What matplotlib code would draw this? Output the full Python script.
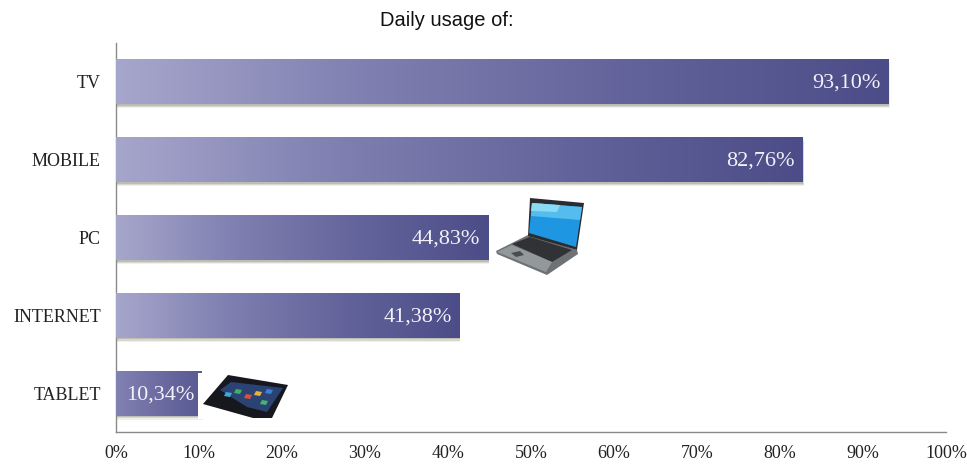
import numpy as np
import matplotlib
matplotlib.use("Agg")
import matplotlib.pyplot as plt
from matplotlib.colors import LinearSegmentedColormap
from matplotlib.patches import Polygon, Rectangle
from matplotlib.transforms import Affine2D

categories = ["TV", "MOBILE", "PC", "INTERNET", "TABLET"]
values = [93.10, 82.76, 44.83, 41.38, 10.34]
value_labels = ["93,10%", "82,76%", "44,83%", "41,38%", "10,34%"]
x_ticks = [0, 10, 20, 30, 40, 50, 60, 70, 80, 90, 100]
x_tick_labels = ["0%", "10%", "20%", "30%", "40%", "50%", "60%", "70%", "80%", "90%", "100%"]

W, H = 967, 465
fig = plt.figure(figsize=(W / 100, H / 100), dpi=100)
ax = fig.add_axes([116 / W, 1 - 432 / H, (946 - 116) / W, (432 - 43) / H])

serif = "Liberation Serif"
bar_cmap = LinearSegmentedColormap.from_list("bar", ["#A6A6CC", "#7E7EB0", "#63639B", "#4C4C88"])
bar_height = 0.58

for i, (value, text) in enumerate(zip(values, value_labels)):
    # soft drop shadow under each bar
    for off, alpha in ((0.05, 0.12), (0.035, 0.2), (0.02, 0.3)):
        ax.barh(i + off, value + off * 2.5, height=bar_height, color="#80806F",
                alpha=alpha, linewidth=0, zorder=1)
    base = ax.barh(i, value, height=bar_height, color="none", linewidth=0, zorder=2)[0]
    # the shortest bar only covers the middle of the colour ramp
    short = value < 20
    lo, hi = (0.3, 0.8) if short else (0.0, 1.0)
    ramp = np.linspace(lo, hi, 256).reshape(1, -1)
    img = ax.imshow(ramp, cmap=bar_cmap, vmin=0, vmax=1, aspect="auto", zorder=3,
                    interpolation="bilinear",
                    extent=(0, value, i + bar_height / 2, i - bar_height / 2))
    img.set_clip_path(base)
    ax.text(value - (0.9 if short else 0.95), i + 0.02, text, color="#F1F1F8",
            fontsize=16, family=serif, ha="right", va="center", zorder=8)

ax.set_xlim(0, 100)
ax.set_ylim(len(categories) - 0.5, -0.5)

ax.set_yticks(range(len(categories)))
ax.set_yticklabels(categories, family=serif, fontsize=13, color="#222222")
ax.set_xticks(x_ticks)
ax.set_xticklabels(x_tick_labels, family=serif, fontsize=13, color="#222222")
ax.tick_params(axis="both", length=0)
ax.tick_params(axis="x", pad=9)
ax.tick_params(axis="y", pad=11)

for side in ("top", "right"):
    ax.spines[side].set_visible(False)
for side in ("left", "bottom"):
    ax.spines[side].set_color("#8A8A8A")
    ax.spines[side].set_linewidth(1.0)

fig.text(447 / W, 1 - 20 / H, "Daily usage of:", family="Liberation Sans", fontsize=14.5,
         color="#111111", ha="center", va="center")

# Device icons, laid out in pixel space with the origin at the top left
px = Affine2D().scale(1, -1).translate(0, H)


def shape(points, color, z=6):
    fig.add_artist(Polygon(points, closed=True, facecolor=color, edgecolor="none",
                           transform=px, zorder=z))


# laptop
shape([(496, 251), (528, 235), (577, 250), (578, 254), (547, 275), (497, 254)], "#6E7275")
shape([(512, 244), (530, 237), (572, 250), (552, 262)], "#303235")
shape([(497, 252), (512, 245), (552, 262), (546, 272)], "#93989B")
shape([(511, 253), (520, 251), (524, 255), (516, 257)], "#4A4D50")
shape([(530, 198), (584, 203), (577, 250), (528, 236)], "#2A2C30")
shape([(532, 203), (582, 207), (576, 247), (529, 233)], "#1F96E2")
shape([(532, 203), (582, 207), (580, 220), (531, 216)], "#55BDEE")
shape([(532, 203), (560, 205), (557, 212), (531, 211)], "#8ADAF6")

# white ground of the tablet picture, which trims the end of the shortest bar
fig.add_artist(Rectangle((198, 373), 92, 46, facecolor="white", edgecolor="none",
                         transform=px, zorder=5))

# tablet
shape([(203, 404), (228, 375), (288, 385), (272, 418), (253, 418)], "#17181D")
shape([(220, 390), (231, 382), (283, 388), (267, 412), (247, 407)], "#2B4372")
tile_colors = ["#3FA8D8", "#3FB06A", "#D8503F", "#E8B23A", "#3F7FD8", "#46B46E"]
tile_spots = [(226, 392), (236, 389), (246, 394), (256, 391), (267, 389), (262, 400)]
for colour, (tx, ty) in zip(tile_colors, tile_spots):
    shape([(tx, ty), (tx + 6, ty + 1), (tx + 4, ty + 5), (tx - 2, ty + 4)], colour, z=7)

fig.savefig("out.png", dpi=100, facecolor="white")
